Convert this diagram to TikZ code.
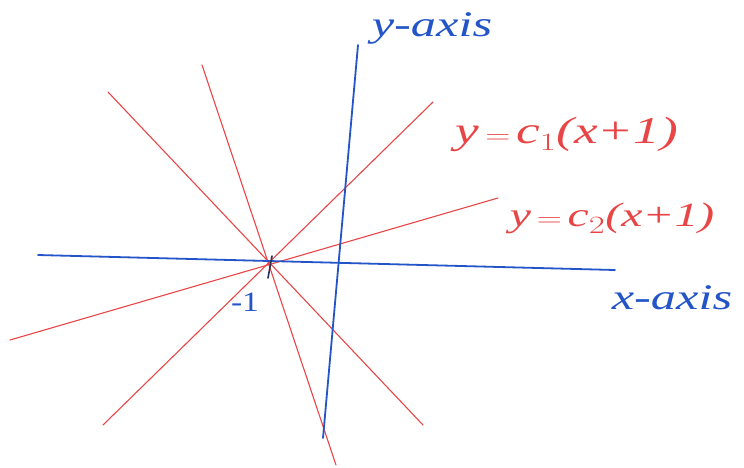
\documentclass[tikz,border=0pt]{standalone}
\usepackage{fontspec}
\setmainfont{Liberation Serif}
\definecolor{penred}{RGB}{232,70,70}
\definecolor{penblue}{RGB}{35,85,200}
\definecolor{penink}{RGB}{40,50,90}
\begin{document}
\begin{tikzpicture}[x=1pt,y=-1pt,
  redline/.style={draw=penred,line width=1.1pt,line cap=round},
  blueline/.style={draw=penblue,line width=1.8pt,line cap=round},
  hand/.style={inner sep=0pt,xscale=1.4},
  redlabel/.style={hand,text=penred,font=\itshape\fontsize{38}{40}\selectfont},
  bluelabel/.style={hand,text=penblue,font=\itshape\fontsize{36}{38}\selectfont}]
\useasboundingbox (0,0) rectangle (744,467);
% red lines through (-1,0)
\coordinate (r1a) at (202,65);  \coordinate (r1b) at (336,465);
\coordinate (r2a) at (108,92);  \coordinate (r2b) at (423,425);
\coordinate (r3a) at (103,425); \coordinate (r3b) at (433,102);
\coordinate (r4a) at (10,340);  \coordinate (r4b) at (498,198);
\draw[redline] (r1a) -- (r1b);
\draw[redline] (r2a) -- (r2b);
\draw[redline] (r3a) -- (r3b);
\draw[redline] (r4a) -- (r4b);
% axes
\coordinate (xa) at (38,255);  \coordinate (xb) at (615,270);
\coordinate (ya) at (358,45);  \coordinate (yb) at (323,438);
\draw[blueline] (xa) -- (xb);
\draw[blueline] (ya) -- (yb);
% tick at -1
\coordinate (ta) at (272,256); \coordinate (tb) at (268,278);
\draw[draw=penink,line width=1.6pt,line cap=round] (ta) -- (tb);
% labels
\node[bluelabel] (ylab) at (432,28) {y-axis};
\node[redlabel] (c1lab) at (567,134) {y$\,=\,$c$_1$(x+1)};
\node[redlabel,font=\itshape\fontsize{34}{36}\selectfont] (c2lab) at (612,218) {y$\,=\,$c$_2$(x+1)};
\node[bluelabel] (xlab) at (672,298) {x-axis};
\node[text=penblue,font=\fontsize{28}{30}\selectfont,inner sep=0pt,xscale=1.2] (m1) at (245,302) {-1};
\end{tikzpicture}
\end{document}
